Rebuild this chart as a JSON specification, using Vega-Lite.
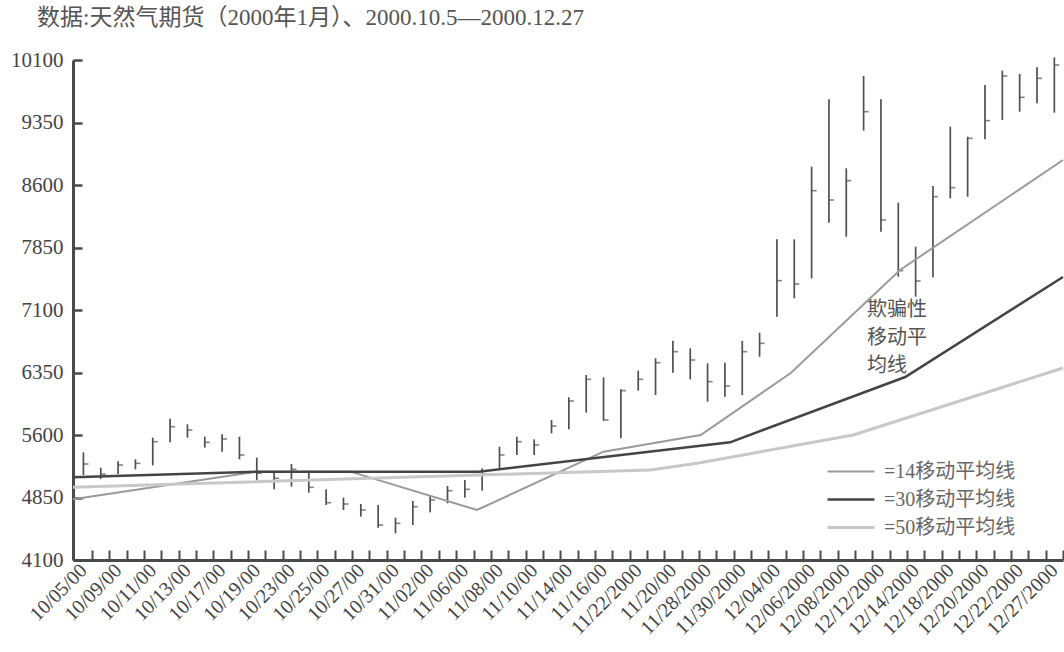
{
  "$schema": "https://vega.github.io/schema/vega-lite/v6.json",
  "width": 990,
  "height": 500,
  "autosize": {"type": "none"},
  "padding": {"left": 73, "top": 60, "right": 1, "bottom": 92},
  "background": "white",
  "config": {
    "view": {"stroke": null},
    "axis": {"grid": false, "domainColor": "#4a4a4a", "tickColor": "#4a4a4a", "labelColor": "#444", "labelFont": "Liberation Serif", "titleFont": "Liberation Serif"}
  },
  "title": {
    "text": "数据:天然气期货（2000年1月）、2000.10.5—2000.12.27",
    "anchor": "start",
    "frame": "group",
    "dx": -36,
    "offset": 19,
    "font": "Liberation Serif, Noto Sans CJK SC",
    "fontSize": 23,
    "fontWeight": "normal",
    "color": "#555"
  },
  "datasets": {
    "bars": [
      {"i": 0, "high": 5392, "low": 5120, "close": 5252},
      {"i": 1, "high": 5208, "low": 5072, "close": 5132},
      {"i": 2, "high": 5284, "low": 5132, "close": 5240},
      {"i": 3, "high": 5308, "low": 5188, "close": 5260},
      {"i": 4, "high": 5568, "low": 5236, "close": 5520},
      {"i": 5, "high": 5796, "low": 5512, "close": 5700},
      {"i": 6, "high": 5728, "low": 5568, "close": 5660},
      {"i": 7, "high": 5580, "low": 5448, "close": 5512},
      {"i": 8, "high": 5608, "low": 5400, "close": 5552},
      {"i": 9, "high": 5580, "low": 5308, "close": 5360},
      {"i": 10, "high": 5328, "low": 5060, "close": 5140},
      {"i": 11, "high": 5160, "low": 4948, "close": 5080},
      {"i": 12, "high": 5252, "low": 4980, "close": 5188},
      {"i": 13, "high": 5172, "low": 4908, "close": 4972},
      {"i": 14, "high": 4948, "low": 4760, "close": 4788},
      {"i": 15, "high": 4848, "low": 4700, "close": 4772},
      {"i": 16, "high": 4772, "low": 4620, "close": 4700},
      {"i": 17, "high": 4760, "low": 4488, "close": 4520},
      {"i": 18, "high": 4608, "low": 4420, "close": 4540},
      {"i": 19, "high": 4808, "low": 4520, "close": 4740},
      {"i": 20, "high": 4868, "low": 4672, "close": 4820},
      {"i": 21, "high": 4988, "low": 4780, "close": 4932},
      {"i": 22, "high": 5060, "low": 4848, "close": 4948},
      {"i": 23, "high": 5200, "low": 4932, "close": 5132},
      {"i": 24, "high": 5460, "low": 5200, "close": 5360},
      {"i": 25, "high": 5580, "low": 5360, "close": 5520},
      {"i": 26, "high": 5548, "low": 5360, "close": 5480},
      {"i": 27, "high": 5780, "low": 5620, "close": 5708},
      {"i": 28, "high": 6052, "low": 5668, "close": 6008},
      {"i": 29, "high": 6320, "low": 5868, "close": 6268},
      {"i": 30, "high": 6292, "low": 5772, "close": 5780},
      {"i": 31, "high": 6148, "low": 5560, "close": 6132},
      {"i": 32, "high": 6372, "low": 6132, "close": 6268},
      {"i": 33, "high": 6520, "low": 6080, "close": 6468},
      {"i": 34, "high": 6732, "low": 6348, "close": 6600},
      {"i": 35, "high": 6640, "low": 6268, "close": 6500},
      {"i": 36, "high": 6460, "low": 6000, "close": 6240},
      {"i": 37, "high": 6468, "low": 6060, "close": 6188},
      {"i": 38, "high": 6728, "low": 6080, "close": 6600},
      {"i": 39, "high": 6828, "low": 6540, "close": 6700},
      {"i": 40, "high": 7948, "low": 7020, "close": 7452},
      {"i": 41, "high": 7948, "low": 7240, "close": 7412},
      {"i": 42, "high": 8820, "low": 7480, "close": 8532},
      {"i": 43, "high": 9628, "low": 8148, "close": 8420},
      {"i": 44, "high": 8800, "low": 7980, "close": 8652},
      {"i": 45, "high": 9908, "low": 9252, "close": 9480},
      {"i": 46, "high": 9628, "low": 8040, "close": 8180},
      {"i": 47, "high": 8388, "low": 7500, "close": 7572},
      {"i": 48, "high": 7860, "low": 7260, "close": 7448},
      {"i": 49, "high": 8588, "low": 7492, "close": 8460},
      {"i": 50, "high": 9300, "low": 8440, "close": 8568},
      {"i": 51, "high": 9180, "low": 8460, "close": 9160},
      {"i": 52, "high": 9800, "low": 9148, "close": 9372},
      {"i": 53, "high": 9972, "low": 9380, "close": 9908},
      {"i": 54, "high": 9932, "low": 9480, "close": 9652},
      {"i": 55, "high": 10012, "low": 9580, "close": 9880},
      {"i": 56, "high": 10132, "low": 9468, "close": 10040}
    ],
    "ma": [
      {"ma": "=14移动平均线", "i": -0.6, "v": 4828},
      {"ma": "=14移动平均线", "i": 10, "v": 5160},
      {"ma": "=14移动平均线", "i": 15.4, "v": 5160},
      {"ma": "=14移动平均线", "i": 22.7, "v": 4700},
      {"ma": "=14移动平均线", "i": 30, "v": 5400},
      {"ma": "=14移动平均线", "i": 35.6, "v": 5600},
      {"ma": "=14移动平均线", "i": 40.8, "v": 6344},
      {"ma": "=14移动平均线", "i": 47.1, "v": 7580},
      {"ma": "=14移动平均线", "i": 56.5, "v": 8900},
      {"ma": "=30移动平均线", "i": -0.6, "v": 5092},
      {"ma": "=30移动平均线", "i": 10, "v": 5160},
      {"ma": "=30移动平均线", "i": 22.8, "v": 5160},
      {"ma": "=30移动平均线", "i": 37.3, "v": 5512},
      {"ma": "=30移动平均线", "i": 47.4, "v": 6296},
      {"ma": "=30移动平均线", "i": 56.5, "v": 7496},
      {"ma": "=50移动平均线", "i": -0.6, "v": 4972},
      {"ma": "=50移动平均线", "i": 22.8, "v": 5120},
      {"ma": "=50移动平均线", "i": 32.7, "v": 5180},
      {"ma": "=50移动平均线", "i": 35.4, "v": 5260},
      {"ma": "=50移动平均线", "i": 44.4, "v": 5600},
      {"ma": "=50移动平均线", "i": 56.5, "v": 6404}
    ],
    "note": [
      {"i": 45.2, "v": 7220, "text": "欺骗性\n移动平\n均线"}
    ]
  },
  "encoding": {
    "x": {
      "field": "i",
      "type": "quantitative",
      "scale": {"domain": [-0.6, 56.5], "nice": false, "zero": false},
      "axis": {
        "title": null,
        "values": [0,0.5,1,1.5,2,2.5,3,3.5,4,4.5,5,5.5,6,6.5,7,7.5,8,8.5,9,9.5,10,10.5,11,11.5,12,12.5,13,13.5,14,14.5,15,15.5,16,16.5,17,17.5,18,18.5,19,19.5,20,20.5,21,21.5,22,22.5,23,23.5,24,24.5,25,25.5,26,26.5,27,27.5,28,28.5,29,29.5,30,30.5,31,31.5,32,32.5,33,33.5,34,34.5,35,35.5,36,36.5,37,37.5,38,38.5,39,39.5,40,40.5,41,41.5,42,42.5,43,43.5,44,44.5,45,45.5,46,46.5,47,47.5,48,48.5,49,49.5,50,50.5,51,51.5,52,52.5,53,53.5,54,54.5,55,55.5,56,56.5],
        "labelExpr": "datum.value % 2 == 0 ? ['10/05/00','10/09/00','10/11/00','10/13/00','10/17/00','10/19/00','10/23/00','10/25/00','10/27/00','10/31/00','11/02/00','11/06/00','11/08/00','11/10/00','11/14/00','11/16/00','11/22/2000','11/20/00','11/28/2000','11/30/2000','12/04/00','12/06/2000','12/08/2000','12/12/2000','12/14/2000','12/18/2000','12/20/2000','12/22/2000','12/27/2000'][datum.value / 2] : ''",
        "tickOpacity": {"condition": {"test": "datum.value % 1 != 0", "value": 1}, "value": 0},
        "tickSize": -10,
        "tickWidth": 2,
        "domainWidth": 3,
        "labelAngle": -45,
        "labelAlign": "right",
        "labelBaseline": "middle",
        "labelPadding": 17,
        "labelFontSize": 20,
        "labelOverlap": false,
        "labelBound": false,
        "labelFlush": false
      }
    }
  },
  "layer": [
    {
      "data": {"name": "bars"},
      "mark": {"type": "rule", "color": "#505050", "strokeWidth": 1.7},
      "encoding": {
        "y": {
          "field": "low",
          "type": "quantitative",
          "scale": {"domain": [4100, 10100], "nice": false, "zero": false},
          "axis": {
            "title": null,
            "format": "d",
            "values": [4100, 4850, 5600, 6350, 7100, 7850, 8600, 9350, 10100],
            "tickSize": -9,
            "tickWidth": 2.5,
            "domainWidth": 3,
            "labelPadding": 19,
            "labelFontSize": 21
          }
        },
        "y2": {"field": "high"}
      }
    },
    {
      "data": {"name": "bars"},
      "mark": {"type": "tick", "orient": "horizontal", "color": "#505050", "size": 5, "thickness": 1.6, "xOffset": 2.5},
      "encoding": {
        "y": {"field": "close", "type": "quantitative", "title": null}
      }
    },
    {
      "data": {"name": "ma"},
      "mark": {"type": "line", "strokeCap": "butt"},
      "encoding": {
        "y": {"field": "v", "type": "quantitative", "title": null},
        "color": {
          "field": "ma",
          "type": "nominal",
          "scale": {"domain": ["=14移动平均线", "=30移动平均线", "=50移动平均线"], "range": ["#9a9a9a", "#444444", "#c8c8c8"]},
          "legend": {
            "orient": "none",
            "legendX": 753,
            "legendY": 401,
            "title": null,
            "symbolType": "stroke",
            "symbolSize": 2200,
            "clipHeight": 21,
            "labelFont": "Liberation Serif, Noto Sans CJK SC",
            "labelFontSize": 20,
            "labelColor": "#666",
            "labelOffset": 8,
            "labelLimit": 300,
            "rowPadding": 7,
            "padding": 0
          }
        },
        "strokeWidth": {
          "field": "ma",
          "type": "nominal",
          "scale": {"domain": ["=14移动平均线", "=30移动平均线", "=50移动平均线"], "range": [2, 3, 1.8]},
          "legend": {
            "orient": "none",
            "legendX": 753,
            "legendY": 401,
            "title": null,
            "symbolType": "stroke",
            "symbolSize": 2200,
            "clipHeight": 21,
            "labelFont": "Liberation Serif, Noto Sans CJK SC",
            "labelFontSize": 20,
            "labelColor": "#666",
            "labelOffset": 8,
            "labelLimit": 300,
            "rowPadding": 7,
            "padding": 0
          }
        },
        "order": {"field": "i", "type": "quantitative"}
      }
    },
    {
      "data": {"name": "note"},
      "mark": {"type": "text", "align": "left", "baseline": "top", "font": "Noto Sans CJK SC", "fontSize": 20, "lineHeight": 28, "lineBreak": "\n", "color": "#555"},
      "encoding": {
        "y": {"field": "v", "type": "quantitative", "title": null},
        "text": {"field": "text"}
      }
    }
  ]
}
